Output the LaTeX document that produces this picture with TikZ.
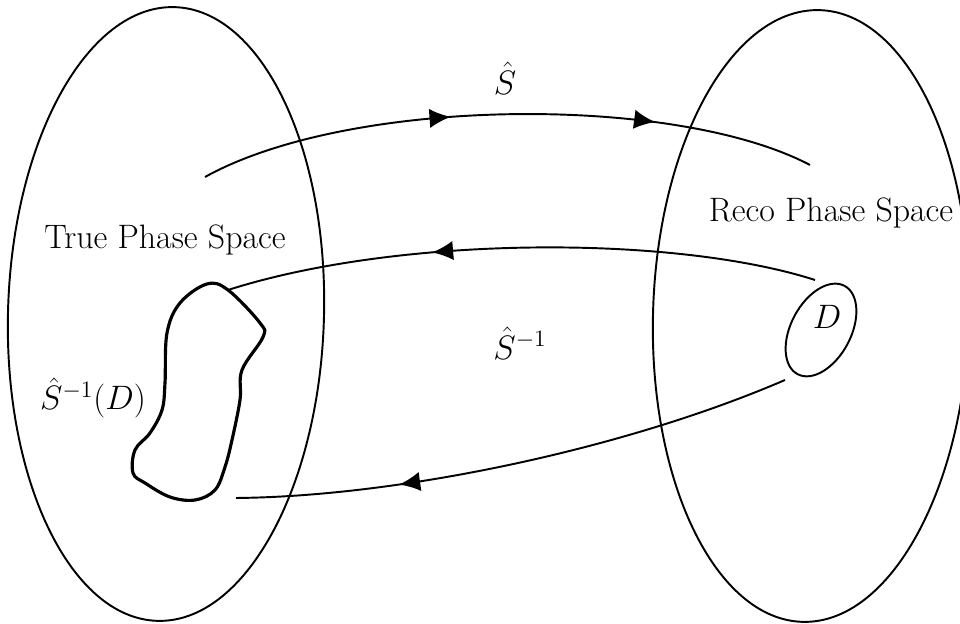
\documentclass[tikz,border=0pt]{standalone}
\usepackage{tikz}
\usetikzlibrary{arrows.meta,decorations.markings}
\newcommand{\lab}[1]{\scalebox{0.93}{#1}}

\begin{document}
\begin{tikzpicture}[
    space/.style={line width=1.1pt},
    map/.style={line width=1.1pt},
    blob/.style={line width=1.8pt},
    lbl/.style={font=\huge},
    tipat/.style={postaction={decorate},
      decoration={markings,mark=at position #1 with {\arrow{Latex[length=12pt,width=11pt]}}}},
  ]
  \useasboundingbox (0,0) rectangle (19.2,12.48);
  % phase spaces
  \draw[space,rotate around={-1.6:(3.32,6.20)}] (3.32,6.20) ellipse (3.16 and 6.14);
  \draw[space,rotate around={-1.6:(16.22,6.16)}] (16.22,6.16) ellipse (3.16 and 6.12);
  \node[lbl] (truelbl) at (3.3,7.68) {\lab{True Phase Space}};
  \node[lbl] (recolbl) at (16.62,8.22) {\lab{Reco Phase Space}};
  % region D and its preimage
  \draw[space,rotate around={-28:(16.42,5.88)}] (16.42,5.88) ellipse (0.6 and 1.0);
  \node[lbl] (dlbl) at (16.54,6.14) {\lab{$D$}};
  \draw[blob] plot[smooth cycle,tension=0.6] coordinates {
    (4.14,6.80) (4.56,6.68) (5.20,6.02) (5.26,5.74) (4.84,5.08) (4.80,4.48)
    (4.64,3.68) (4.50,3.14) (4.30,2.68) (3.90,2.48) (3.40,2.54) (2.90,2.82)
    (2.66,3.02) (2.70,3.48) (3.00,3.82) (3.24,4.28) (3.30,4.82) (3.34,5.82)
    (3.60,6.42)};
  \node[lbl] (invlbl) at (1.86,4.52) {\lab{$\hat S^{-1}(D)$}};
  % end points of the maps
  \coordinate (sfrom) at (4.10,8.94);
  \coordinate (sto) at (16.20,9.18);
  \coordinate (dtop) at (16.30,6.88);
  \coordinate (btop) at (4.56,6.68);
  \coordinate (dbot) at (15.70,4.88);
  \coordinate (bbot) at (4.72,2.52);
  % maps
  \draw[map,postaction={decorate},decoration={markings,
      mark=at position 0.41 with {\arrow{Latex[length=12pt,width=11pt]}},
      mark=at position 0.74 with {\arrow{Latex[length=12pt,width=11pt]}}}]
    (sfrom) .. controls (7.0,10.55) and (13.5,10.6) .. (sto);
  \node[lbl] (slbl) at (10.10,10.92) {\lab{$\hat S$}};
  \draw[map,tipat=0.65] (dtop) .. controls (13.5,7.78) and (8.0,7.78) .. (btop);
  \draw[map,tipat=0.71] (dbot) .. controls (12.5,3.5) and (8.0,2.55) .. (bbot);
  \node[lbl] (sinvlbl) at (10.4,5.62) {\lab{$\hat S^{-1}$}};
\end{tikzpicture}
\end{document}
